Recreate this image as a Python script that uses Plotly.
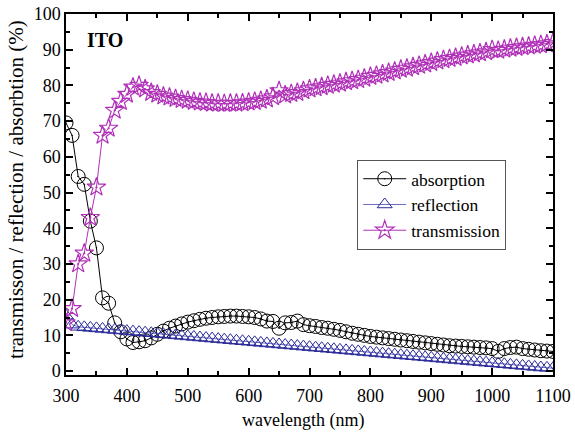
import plotly.graph_objects as go

wavelength = list(range(300, 1101, 10))

absorption = [69.5, 66, 54.5, 52.3, 42, 34.5, 20.5, 19, 13.5, 11, 9, 8, 8.2, 8.5, 9.3, 10.3,
              11.2, 12, 12.6, 13.2, 13.7, 14.1, 14.5, 14.8, 15, 15.2, 15.3, 15.4, 15.4, 15.3,
              15.2, 15, 14.6, 14, 13.9, 12, 13.5, 13.6, 14, 13, 12.7, 12.5, 12.2, 12, 11.7,
              11.4, 11, 10.6, 10.3, 10, 9.7, 9.5, 9.3, 9.1, 8.9, 8.7, 8.5, 8.3, 8.1, 7.9,
              7.7, 7.5, 7.3, 7.1, 7, 6.9, 6.8, 6.7, 6.6, 6.5, 6.3, 5.5, 6.3, 6.6, 6.7,
              6.3, 6.1, 5.9, 5.7, 5.6, 5.5]

reflection = [15.5, 13, 12.4, 12.25, 12.1, 11.95, 11.8, 11.65, 11.5, 11.35, 11.2, 11.05,
              10.9, 10.75, 10.6, 10.45, 10.3, 10.15, 10.0, 9.85, 9.7, 9.55, 9.4, 9.25, 9.1,
              8.95, 8.8, 8.65, 8.5, 8.35, 8.2, 8.05, 7.9, 7.75, 7.6, 7.45, 7.3, 7.15, 7.0,
              6.85, 6.7, 6.55, 6.4, 6.25, 6.1, 5.95, 5.8, 5.65, 5.5, 5.35, 5.2, 5.05, 4.9,
              4.75, 4.6, 4.45, 4.3, 4.15, 4.0, 3.85, 3.7, 3.55, 3.4, 3.25, 3.1, 2.95, 2.8,
              2.65, 2.5, 2.35, 2.2, 2.05, 1.9, 1.75, 1.6, 1.45, 1.3, 1.15, 1.0, 0.9, 0.8]

transmission = [13.5, 17.5, 30, 33, 43, 51.5, 66, 68, 73, 75.5, 77.5, 79.5, 80, 79, 78, 77.5,
                77, 76.7, 76.3, 76, 75.8, 75.5, 75.3, 75.2, 75, 75, 74.9, 75, 75, 75.1, 75.3,
                75.5, 75.8, 76.2, 76.8, 78.5, 77.3, 77.7, 78, 78.5, 79, 79.3, 79.6, 80, 80.3,
                80.6, 81, 81.3, 81.6, 82, 82.5, 82.8, 83.2, 83.6, 84, 84.5, 84.8, 85.2, 85.6,
                86, 86.4, 86.8, 87.2, 87.5, 87.8, 88.2, 88.5, 88.8, 89.1, 89.4, 90, 89.8,
                90.1, 90.4, 90.6, 90.8, 91, 91.2, 91.4, 91.6, 92]

x_ticks = [300, 400, 500, 600, 700, 800, 900, 1000, 1100]
y_ticks = [0, 10, 20, 30, 40, 50, 60, 70, 80, 90, 100]

FONT = "Liberation Serif, Times New Roman, serif"

fig = go.Figure()
fig.add_trace(go.Scatter(
    x=wavelength, y=absorption, name="absorption", mode="lines+markers",
    line=dict(color="black", width=1),
    marker=dict(symbol="circle-open-dot", size=14, color="black", line=dict(width=1)),
))
fig.add_trace(go.Scatter(
    x=wavelength, y=reflection, name="reflection", mode="lines+markers",
    line=dict(color="#6a6ac4", width=1),
    marker=dict(symbol="triangle-up-open", size=13, color="#2a2a9a", line=dict(width=1)),
))
fig.add_trace(go.Scatter(
    x=wavelength, y=transmission, name="transmission", mode="lines+markers",
    line=dict(color="#b030b8", width=1),
    marker=dict(symbol="star-open-dot", size=14, color="#b030b8", line=dict(width=1.2)),
))

axis_common = dict(
    showline=True, linecolor="black", linewidth=1.5, mirror="ticks",
    ticks="inside", ticklen=7, tickwidth=1.5, tickcolor="black",
    showgrid=False, zeroline=False, automargin=False,
    tickfont=dict(family=FONT, size=18, color="black"),
)

fig.update_layout(
    template="simple_white",
    width=575, height=436,
    margin=dict(l=66, r=22, t=14, b=61),
    paper_bgcolor="white", plot_bgcolor="white",
    font=dict(family=FONT, color="black"),
    showlegend=True,
    legend=dict(
        x=0.598, y=0.596, xanchor="left", yanchor="top",
        bgcolor="white", bordercolor="#555555", borderwidth=1,
        font=dict(family=FONT, size=17.5, color="black"),
        tracegroupgap=0, itemwidth=43,
    ),
)
fig.update_xaxes(
    range=[300, 1100], tickvals=x_ticks,
    minor=dict(ticks="inside", ticklen=4, tickwidth=1.5, tickcolor="black", dtick=50),
    ticklabelstandoff=4,
    **axis_common,
)
fig.update_yaxes(
    range=[-1.1, 100], tickvals=y_ticks,
    minor=dict(ticks="inside", ticklen=4, tickwidth=1.5, tickcolor="black", dtick=5),
    **axis_common,
)
fig.add_annotation(
    x=0.487, y=-0.125, xref="paper", yref="paper", text="wavelength (nm)",
    showarrow=False, xanchor="center", yanchor="middle",
    font=dict(family=FONT, size=18, color="black"),
)
fig.add_annotation(
    x=-0.1027, y=0.515, xref="paper", yref="paper",
    text="transmisson / reflection / absorbtion (%)", textangle=-90,
    showarrow=False, xanchor="center", yanchor="middle",
    font=dict(family=FONT, size=21, color="black"),
)
fig.add_annotation(
    x=0.081, y=0.928, xref="paper", yref="paper", text="<b>ITO</b>",
    showarrow=False, xanchor="center", yanchor="middle",
    font=dict(family=FONT, size=20, color="black"),
)

fig.write_html("out.html", config={"displayModeBar": False},
               post_script="document.body.style.margin='0';")
